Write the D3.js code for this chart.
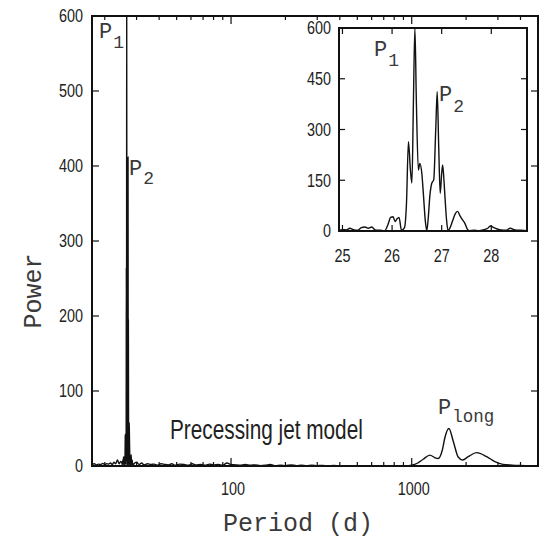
<!DOCTYPE html>
<html>
<head>
<meta charset="utf-8">
<script src="https://cdn.jsdelivr.net/npm/d3@7"></script>
<style>
  html, body { margin: 0; padding: 0; background: #fff; }
  svg { display: block; }
  .num { font-family: "Liberation Sans", Arial, sans-serif; fill: #222; }
  .mono { font-family: "Liberation Mono", "DejaVu Sans Mono", monospace; fill: #3a3a3a; }
</style>
</head>
<body>
<svg id="chart" width="546" height="540"></svg>
<script>
// ---------------- DATA ----------------
// Low-period noise (days, power)
const noiseLowPeriods = [17, 17.5, 18, 18.5, 19, 19.5, 20, 20.5, 21, 21.5, 22, 22.5, 23, 23.5, 24, 24.5, 24.9];
const noiseLowValues  = [2, 3, 1.5, 2.5, 2, 3.5, 2, 3, 2.5, 4, 2, 5, 3, 8, 3, 6, 4];

// Main peak cluster P1 / P2 (also shown in the inset)
const clusterPeriods = [24.93, 25.0, 25.08, 25.15, 25.22, 25.3, 25.38, 25.45, 25.52, 25.59, 25.66, 25.76, 25.85, 25.92, 25.97, 26.02, 26.06, 26.10, 26.14, 26.19, 26.25, 26.29, 26.33, 26.37, 26.40, 26.43, 26.46, 26.49, 26.53, 26.56, 26.60, 26.63, 26.67, 26.70, 26.73, 26.76, 26.80, 26.84, 26.88, 26.91, 26.94, 26.97, 27.00, 27.02, 27.05, 27.07, 27.10, 27.13, 27.17, 27.22, 27.27, 27.32, 27.37, 27.42, 27.47, 27.52, 27.56, 27.65, 27.75, 27.85, 27.93, 27.98, 28.05, 28.12, 28.2, 28.3, 28.38, 28.48, 28.6, 28.72];
const clusterValues  = [2, 4, 3, 8, 4, 2, 10, 12, 8, 12, 3, 2, 1, 20, 40, 42, 28, 36, 40, 2, 10, 80, 264, 180, 142, 380, 600, 380, 180, 200, 170, 112, 30, 1, 40, 101, 141, 152, 300, 412, 250, 111, 170, 195, 140, 92, 30, 1, 10, 30, 50, 58, 45, 33, 22, 5, 1, 2, 1, 4, 8, 15, 10, 6, 3, 2, 8, 3, 2, 1];

// Mid-period noise
const noiseHighPeriods = [29, 30, 31, 32, 33, 34.5, 36, 37.5, 39, 41, 43, 45, 47, 49, 52, 55, 58, 61, 64, 68, 72, 76, 80, 85, 90, 95, 100, 106, 112, 120, 128, 136, 145, 155, 165, 176, 188, 200, 215, 230, 245, 262, 280, 300, 320, 345, 370, 400, 430, 460, 500, 540, 580, 620, 670, 720, 780, 840, 900, 960];
const noiseHighValues  = [3, 5, 2, 4, 1.5, 3, 2, 2.5, 1, 3, 2, 1.5, 3, 1, 2.5, 2, 1, 3, 1.5, 2, 1, 2.5, 1.5, 2, 1, 4, 2, 1.5, 1, 2, 1, 1.5, 0.5, 1, 2, 0.5, 1, 0.5, 1.5, 0.5, 1, 0.5, 1, 0.5, 0.8, 0.3, 0.6, 0.3, 0.5, 0.3, 0.5, 0.2, 0.4, 0.2, 0.3, 0.2, 0.3, 0.2, 0.3, 0.5];

// Long-period bump (P_long)
const longPeriods = [1000, 1080, 1158, 1262, 1345, 1400, 1480, 1527, 1607, 1698, 1808, 1914, 2055, 2287, 2600, 2886, 3198, 3600, 3972, 4500, 5000];
const longValues  = [1, 4, 9, 14.5, 11, 10, 22, 38, 50, 33, 12, 8, 12.4, 17.8, 12.4, 5.8, 2.2, 1.2, 0.7, 0.3, 0.2];

// Axis ticks
const mainYTicks = [0, 100, 200, 300, 400, 500, 600];
const mainXLabels = [100, 1000];
const mainXMinor = [20, 30, 40, 50, 60, 70, 80, 90, 200, 300, 400, 500, 600, 700, 800, 900, 2000, 3000, 4000, 5000];
const insetYTicks = [0, 150, 300, 450, 600];
const insetXTicks = [25, 26, 27, 28];

// ---------------- CHART ----------------
const svg = d3.select("#chart");
const NARROW = 0.8;

const zip = (ps, vs) => ps.map((p, i) => ({p: p, v: vs[i]}));
const mainData = [].concat(
  zip(noiseLowPeriods, noiseLowValues),
  zip(clusterPeriods, clusterValues),
  zip(noiseHighPeriods, noiseHighValues),
  zip(longPeriods, longValues)
);
const insetData = zip(clusterPeriods, clusterValues);

function narrowText(tx, ty, str, size, anchor, dy, sx) {
  return svg.append("text").attr("class", "num")
    .attr("transform", `translate(${tx},${ty}) scale(${sx || NARROW},1)`)
    .attr("text-anchor", anchor).attr("dy", dy || 0)
    .attr("font-size", size).text(str);
}

// Main scales
const x = d3.scaleLog().domain([17, 5000]).range([92, 538]);
const y = d3.scaleLinear().domain([0, 600]).range([466, 16]);

svg.append("clipPath").attr("id", "clipMain")
  .append("rect").attr("x", 92).attr("y", 16).attr("width", 446).attr("height", 450);

svg.append("path")
  .datum(mainData)
  .attr("clip-path", "url(#clipMain)")
  .attr("fill", "none")
  .attr("stroke", "#111")
  .attr("stroke-width", 1.4)
  .attr("stroke-linejoin", "round")
  .attr("d", d3.line().x(d => x(d.p)).y(d => y(d.v)).curve(d3.curveMonotoneX));

// Main ticks (inward, mirrored)
const gT = svg.append("g").attr("stroke", "#111").attr("stroke-width", 1.2);
mainYTicks.forEach(t => {
  gT.append("line").attr("x1", 92).attr("x2", 99).attr("y1", y(t)).attr("y2", y(t));
  gT.append("line").attr("x1", 538).attr("x2", 531).attr("y1", y(t)).attr("y2", y(t));
});
mainXLabels.forEach(t => {
  gT.append("line").attr("x1", x(t)).attr("x2", x(t)).attr("y1", 466).attr("y2", 458);
  gT.append("line").attr("x1", x(t)).attr("x2", x(t)).attr("y1", 16).attr("y2", 24);
});
mainXMinor.forEach(t => {
  gT.append("line").attr("x1", x(t)).attr("x2", x(t)).attr("y1", 466).attr("y2", 462);
  gT.append("line").attr("x1", x(t)).attr("x2", x(t)).attr("y1", 16).attr("y2", 20);
});

// Main frame
svg.append("rect").attr("x", 92).attr("y", 16).attr("width", 446).attr("height", 450)
  .attr("fill", "none").attr("stroke", "#111").attr("stroke-width", 2);

// Main tick labels
mainYTicks.forEach(t => narrowText(83, y(t), t, 18, "end", "0.36em"));
mainXLabels.forEach(t => narrowText(x(t) + 2, 495, t, 18, "middle"));

// Axis titles
svg.append("text").attr("class", "mono").attr("font-size", 25)
  .attr("x", 298).attr("y", 531).attr("text-anchor", "middle").text("Period (d)");
svg.append("text").attr("class", "mono").attr("font-size", 25)
  .attr("transform", "translate(41,291) rotate(-90)").attr("text-anchor", "middle").text("Power");

// Peak labels
function peakLabel(px, py, main, sub, subSize, subDy) {
  const t = svg.append("text").attr("class", "mono").attr("x", px).attr("y", py).attr("font-size", 22);
  t.append("tspan").text(main);
  t.append("tspan").attr("font-size", subSize).attr("dy", subDy).attr("dx", 1).text(sub);
}
peakLabel(99, 38, "P", "1", 18, 10);
peakLabel(129, 175, "P", "2", 18, 9);
peakLabel(438, 414, "P", "long", 17.5, 8);

narrowText(170, 439, "Precessing jet model", 27, "start", 0, 0.77);

// ---------------- INSET ----------------
const xi = d3.scaleLinear().domain([24.93, 28.72]).range([339, 527]);
const yi = d3.scaleLinear().domain([0, 600]).range([231, 28]);

svg.append("rect").attr("x", 339).attr("y", 28).attr("width", 188).attr("height", 203)
  .attr("fill", "#fff");

svg.append("clipPath").attr("id", "clipInset")
  .append("rect").attr("x", 339).attr("y", 28).attr("width", 188).attr("height", 203);

svg.append("path")
  .datum(insetData)
  .attr("clip-path", "url(#clipInset)")
  .attr("fill", "none")
  .attr("stroke", "#111")
  .attr("stroke-width", 1.4)
  .attr("stroke-linejoin", "round")
  .attr("d", d3.line().x(d => xi(d.p)).y(d => yi(d.v)).curve(d3.curveMonotoneX));

const gI = svg.append("g").attr("stroke", "#111").attr("stroke-width", 1.2);
insetYTicks.forEach(t => {
  gI.append("line").attr("x1", 339).attr("x2", 345).attr("y1", yi(t)).attr("y2", yi(t));
  gI.append("line").attr("x1", 527).attr("x2", 521).attr("y1", yi(t)).attr("y2", yi(t));
});
insetXTicks.forEach(t => {
  gI.append("line").attr("x1", xi(t)).attr("x2", xi(t)).attr("y1", 231).attr("y2", 225);
  gI.append("line").attr("x1", xi(t)).attr("x2", xi(t)).attr("y1", 28).attr("y2", 34);
});

svg.append("rect").attr("x", 339).attr("y", 28).attr("width", 188).attr("height", 203)
  .attr("fill", "none").attr("stroke", "#111").attr("stroke-width", 2);

insetYTicks.forEach(t => narrowText(331, yi(t), t, 18, "end", "0.36em"));
insetXTicks.forEach(t => narrowText(xi(t), 262, t, 18, "middle"));

// Inset peak labels
peakLabel(374, 56, "P", "1", 18, 10);
peakLabel(439, 101, "P", "2", 18, 11);
</script>
</body>
</html>
